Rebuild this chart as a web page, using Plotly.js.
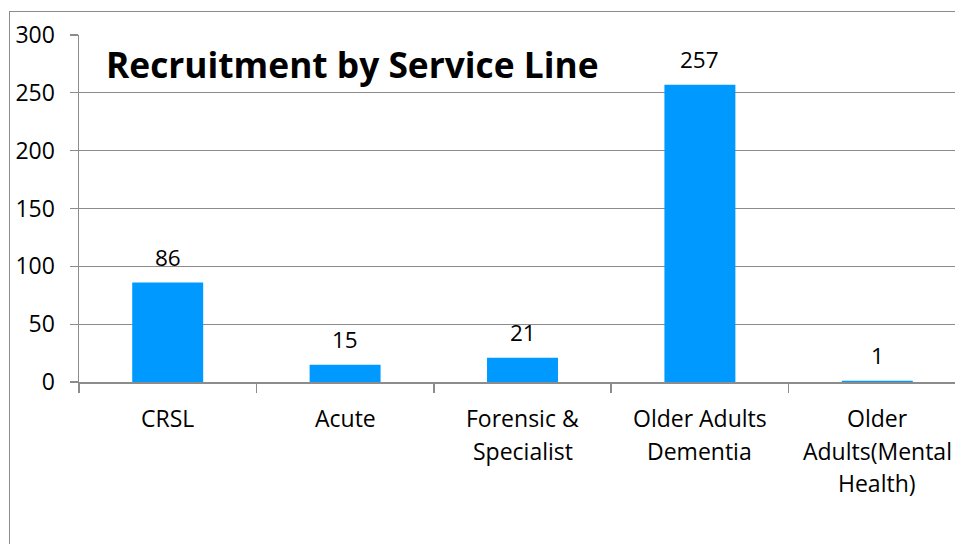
<!DOCTYPE html>
<html>
<head>
<meta charset="utf-8">
<script src="https://cdn.plot.ly/plotly-3.0.1.min.js"></script>
<style>
  html, body { margin: 0; padding: 0; overflow: hidden; background: #fff; width: 955px; height: 544px; }
  #chart { position: absolute; left: 0; top: 0; width: 980px; height: 544px; }
  #frame { position: absolute; left: 9px; top: 11px; width: 2000px; height: 2000px;
           border-left: 1.5px solid #8c8c8c; border-top: 1.5px solid #8c8c8c; pointer-events: none; z-index: 5; }
</style>
</head>
<body>
<div id="chart"></div>
<div id="frame"></div>
<script>
const categories = ["CRSL", "Acute", "Forensic & Specialist", "Older Adults Dementia", "Older Adults(Mental Health)"];
const labelLines = [["CRSL"], ["Acute"], ["Forensic &", "Specialist"], ["Older Adults", "Dementia"], ["Older", "Adults(Mental", "Health)"]];
const values = [86, 15, 21, 257, 1];
const yTicks = [0, 50, 100, 150, 200, 250, 300];
const chartTitle = "Recruitment by Service Line";

const FONT = "'Open Sans', Lato, sans-serif";
const W = 980, H = 544;

const trace = {
  type: "bar",
  x: categories,
  y: values,
  marker: { color: "#0099ff", line: { width: 0 } },
  hoverinfo: "skip"
};

const annotations = [];
categories.forEach((c, i) => {
  annotations.push({
    x: c, y: values[i], xref: "x", yref: "y",
    text: String(values[i]), showarrow: false,
    yanchor: "middle", yshift: 25,
    font: { family: FONT, size: 22.5, color: "#000" }
  });
  labelLines[i].forEach((line, k) => {
    annotations.push({
      x: c, y: 0, xref: "x", yref: "y",
      text: line, showarrow: false,
      xanchor: "center", yanchor: "middle", yshift: -(36 + k * 32.5),
      font: { family: FONT, size: 23, color: "#000" }
    });
  });
});

const layout = {
  width: W, height: H,
  paper_bgcolor: "#fff", plot_bgcolor: "#fff",
  margin: { l: 79, r: W - 966, t: 35, b: H - 382, pad: 0 },
  bargap: 0.6,
  showlegend: false,
  title: {
    text: "<b>" + chartTitle + "</b>",
    xref: "container", yref: "container",
    x: 106 / W, xanchor: "left",
    y: 1 - 66 / H, yanchor: "middle",
    font: { family: FONT, size: 35.3, color: "#000" }
  },
  xaxis: {
    type: "category",
    range: [-0.5, 4.5],
    showgrid: false,
    showline: true, linecolor: "#8c8c8c", linewidth: 1.5,
    ticks: "outside", tickson: "boundaries", ticklen: 9, tickcolor: "#8c8c8c", tickwidth: 1.5,
    showticklabels: false,
    fixedrange: true
  },
  yaxis: {
    range: [0, 300],
    tickvals: yTicks,
    ticktext: yTicks.map(String),
    showgrid: true, gridcolor: "#8c8c8c", gridwidth: 1.3,
    zeroline: false,
    showline: true, linecolor: "#8c8c8c", linewidth: 1.5,
    ticks: "outside", ticklen: 8, tickcolor: "#8c8c8c", tickwidth: 1.3,
    tickfont: { family: FONT, size: 23, color: "#000" },
    ticklabelstandoff: 10,
    fixedrange: true
  },
  annotations: annotations
};

Plotly.newPlot("chart", [trace], layout, { displayModeBar: false, staticPlot: true });
</script>
</body>
</html>
